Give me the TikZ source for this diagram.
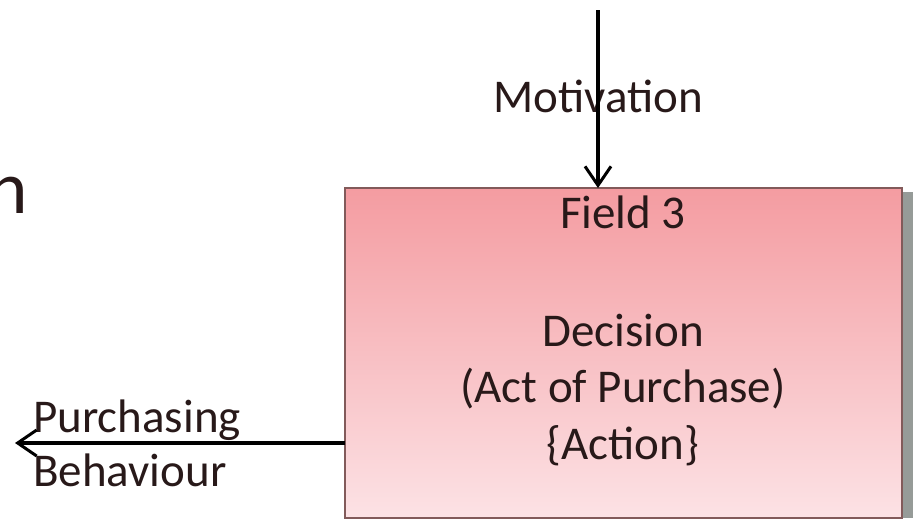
\documentclass[tikz,border=0pt]{standalone}
\usepackage{fontspec}
\setmainfont{Carlito}
\usetikzlibrary{arrows.meta}
\definecolor{boxtop}{RGB}{244,156,161}
\definecolor{boxbot}{RGB}{252,226,229}
\definecolor{boxline}{RGB}{130,90,90}
\definecolor{txt}{RGB}{40,25,25}
\definecolor{shadowc}{RGB}{150,155,152}
\tikzset{
  lbl/.style={font=\fontsize{47}{56}\selectfont, text=txt, inner sep=0pt, align=center},
  flow/.style={line width=3.5pt, draw=black, -{Straight Barb[length=19pt,width=26pt,line width=3pt]}},
}
\begin{document}
\begin{tikzpicture}[x=1pt,y=-1pt]
\useasboundingbox (0,0) rectangle (913,522);
\fill[shadowc] (902,192) rectangle (913,518);
\shade[top color=boxtop,bottom color=boxbot] (345,188) rectangle (902,518);
\draw[boxline,line width=1.8pt] (345,188) rectangle (902,518);
\node[lbl,anchor=base] (f3) at (623,228) {Field 3};
\node[lbl,anchor=base] (dec) at (623,346) {Decision};
\node[lbl,anchor=base] (act) at (623,402) {(Act of Purchase)};
\node[lbl,anchor=base] (acn) at (623,459) {\{Action\}};
\coordinate (boxleft) at (345,443);
\coordinate (boxtopc) at (598,188);
\coordinate (motstart) at (598,10);
\coordinate (pbend) at (15,443);
\node[lbl,anchor=base] (mot) at (598,112) {Motivation};
\node[lbl,anchor=base west] (pur) at (33,432) {Purchasing};
\node[lbl,anchor=base west] (beh) at (33,486) {Behaviour};
\node[font=\fontsize{75}{80}\selectfont, text=txt, inner sep=0pt, anchor=base east] (nn) at (28,213) {n};
\draw[flow] (motstart) -- (boxtopc);
\draw[flow] (boxleft) -- (pbend);
\end{tikzpicture}
\end{document}
